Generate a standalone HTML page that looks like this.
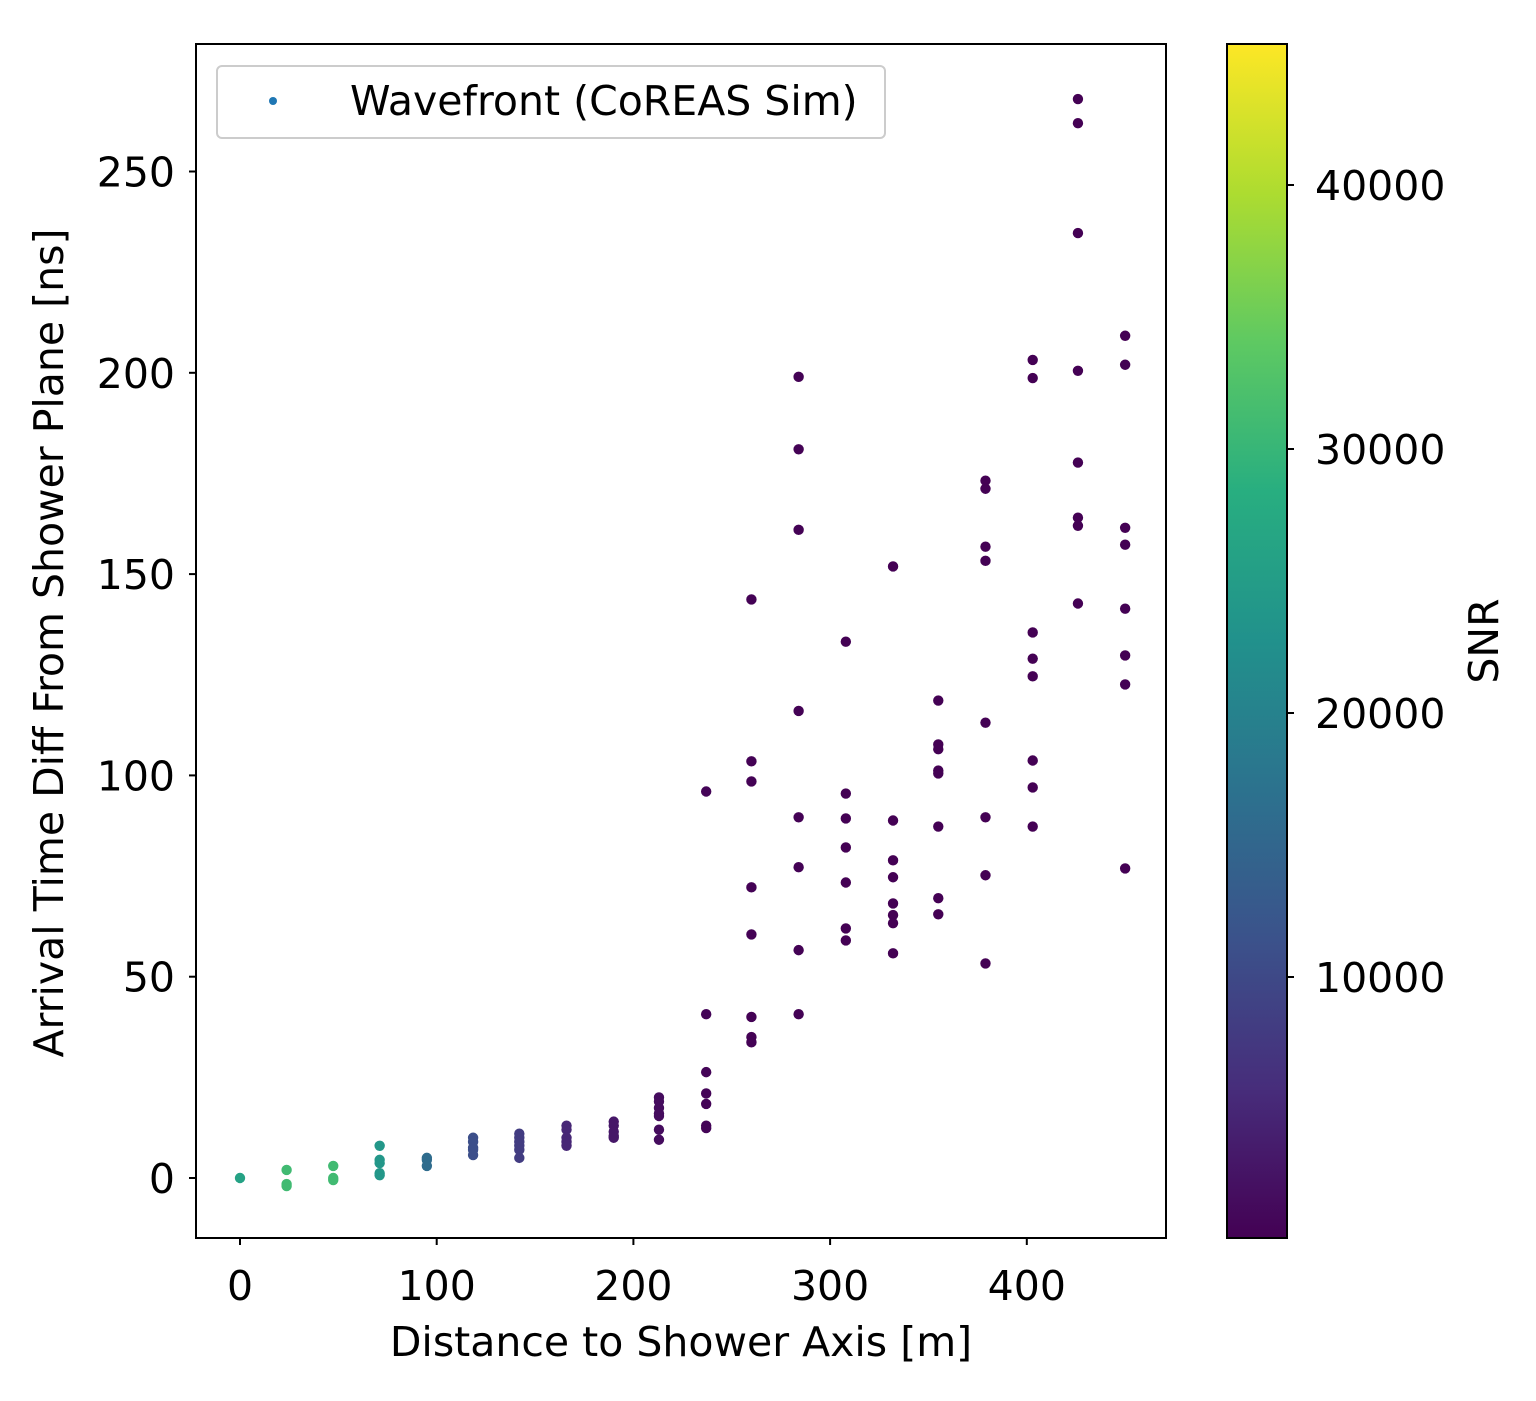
<!DOCTYPE html>
<html><head><meta charset="utf-8"><style>
body{margin:0;background:#fff}
svg text{font-family:"DejaVu Sans","Liberation Sans",sans-serif;fill:#000}
</style></head><body>
<svg id="c" width="1536" height="1396" xmlns="http://www.w3.org/2000/svg">
<defs><linearGradient id="vg" x1="0" y1="1" x2="0" y2="0">
<stop offset="0" stop-color="#440154"/><stop offset="0.125" stop-color="#472d7b"/><stop offset="0.25" stop-color="#3b528b"/><stop offset="0.375" stop-color="#2c728e"/><stop offset="0.5" stop-color="#21918c"/><stop offset="0.625" stop-color="#28ae80"/><stop offset="0.75" stop-color="#5ec962"/><stop offset="0.875" stop-color="#addc30"/><stop offset="1" stop-color="#fde725"/></linearGradient></defs>
<g id="plot"></g>
</svg>
<script>
const distances=[0,23.7,47.4,71,95,118.5,142,166,190,213,237,260,284,308,332,355,379,403,426,450];
const times=[[0],[2,-1.5,-2],[3,0,-0.5],[8,4.5,3.7,1.2,0.7],[5,4.5,3],[10,9,7.5,7,5.7],[11,10,9,8,7,5],[13,12,10,9,8],[14,13,11.5,10.5,10],[20,19,17.4,16,15.4,12,9.5],
[96,40.7,26.3,21,18.4,13,12.4],[143.7,103.5,98.5,72.2,60.5,40,35,33.7],[199,181,161,116,89.6,77.2,56.6,40.7],[133.2,95.5,89.3,82.1,73.4,62,59],
[151.9,88.8,78.9,74.7,68.2,65.3,63.3,55.8],[118.6,107.7,106.5,101.2,100.5,87.3,69.5,65.5],[173.2,171.2,156.8,153.3,113.1,89.6,75.2,53.3],
[203.2,198.7,135.5,129,124.6,103.7,97,87.3],[268,262,234.7,200.5,177.7,164,162,142.7],[209.2,202,161.5,157.3,141.4,129.8,122.6,76.9]];
const snr=[26000,31000,31000,24000,16000,11000,8000,5000,3000,1500,500,300,200,150,150,150,150,150,150,150];
const xTicks=[0,100,200,300,400];
const yTicks=[0,50,100,150,200,250];
const cTicks=[10000,20000,30000,40000];
const NS="http://www.w3.org/2000/svg";
const g=document.getElementById('plot');
const X=v=>240+v*1.967, Y=v=>1178-v*4.026, C=v=>977-(v-10000)*0.0264;
const cmin=114,cmax=45380;
const FS=41;
const stops=["#440154","#472d7b","#3b528b","#2c728e","#21918c","#28ae80","#5ec962","#addc30","#fde725"];
function vir(v){let t=Math.max(0,Math.min(1,(v-cmin)/(cmax-cmin)))*8;let i=Math.min(7,Math.floor(t)),f=t-i;
const a=stops[i],b=stops[i+1];let o='#';for(let k=1;k<7;k+=2){const p=parseInt(a.substr(k,2),16),q=parseInt(b.substr(k,2),16);o+=Math.round(p+(q-p)*f).toString(16).padStart(2,'0');}return o;}
function el(t,a,txt){const e=document.createElementNS(NS,t);for(const k in a)e.setAttribute(k,a[k]);if(txt!=null)e.textContent=txt;g.appendChild(e);return e;}
distances.forEach((d,i)=>times[i].forEach(t=>{const e=el('circle',{cx:X(d),cy:Y(t),r:5.2,fill:vir(snr[i])});

}));
let f=el('rect',{x:196,y:44,width:970,height:1194,fill:'none',stroke:'#000','stroke-width':2});


xTicks.forEach(v=>{el('line',{x1:X(v),x2:X(v),y1:1238,y2:1245,stroke:'#000','stroke-width':2});
const t=el('text',{x:X(v),y:1300,'font-size':FS,'text-anchor':'middle'},String(v));

});
yTicks.forEach(v=>{el('line',{x1:189,x2:196,y1:Y(v),y2:Y(v),stroke:'#000','stroke-width':2});
const t=el('text',{x:175,y:Y(v)+15,'font-size':FS,'text-anchor':'end'},String(v));

});
let xt=el('text',{x:681,y:1356,'font-size':FS,'text-anchor':'middle'},'Distance to Shower Axis [m]');


let yt=el('text',{x:0,y:0,'font-size':FS,'text-anchor':'middle',transform:'translate(63,643) rotate(-90)'},'Arrival Time Diff From Shower Plane [ns]');


let lg=el('rect',{x:217,y:66,width:668,height:72,rx:5,fill:'#fff',stroke:'#ccc','stroke-width':2});


el('circle',{cx:273,cy:101,r:4,fill:'#1f77b4'});
let lt=el('text',{x:350,y:115,'font-size':FS},'Wavefront (CoREAS Sim)');


let cb=el('rect',{x:1227,y:44,width:60,height:1194,fill:'url(#vg)',stroke:'#000','stroke-width':2});


cTicks.forEach(v=>{el('line',{x1:1287,x2:1294,y1:C(v),y2:C(v),stroke:'#000','stroke-width':2});
const t=el('text',{x:1315,y:C(v)+15,'font-size':FS},String(v));

});
let ct=el('text',{x:0,y:0,'font-size':FS,'text-anchor':'middle',transform:'translate(1498,641) rotate(-90)'},'SNR');


</script>
</body></html>
